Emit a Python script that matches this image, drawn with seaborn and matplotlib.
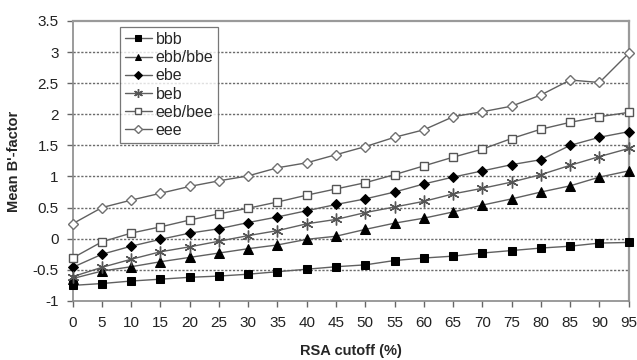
import matplotlib
matplotlib.use("Agg")
import matplotlib.pyplot as plt
import seaborn as sns
import pandas as pd

cutoffs = [0, 5, 10, 15, 20, 25, 30, 35, 40, 45, 50, 55, 60, 65, 70, 75, 80, 85, 90, 95]

bbb = [-0.75, -0.72, -0.68, -0.65, -0.62, -0.60, -0.57, -0.53, -0.49, -0.45,
       -0.42, -0.35, -0.31, -0.28, -0.23, -0.19, -0.15, -0.12, -0.07, -0.06]
ebb_bbe = [-0.64, -0.52, -0.45, -0.37, -0.30, -0.23, -0.16, -0.10, -0.01, 0.04,
           0.15, 0.25, 0.33, 0.43, 0.54, 0.64, 0.75, 0.85, 0.99, 1.09]
ebe = [-0.46, -0.25, -0.12, -0.01, 0.09, 0.16, 0.26, 0.35, 0.45, 0.55,
       0.64, 0.75, 0.88, 0.99, 1.09, 1.19, 1.27, 1.50, 1.63, 1.72]
beb = [-0.61, -0.46, -0.33, -0.21, -0.13, -0.04, 0.05, 0.13, 0.24, 0.31,
       0.42, 0.51, 0.60, 0.72, 0.81, 0.91, 1.03, 1.18, 1.32, 1.45]
eeb_bee = [-0.31, -0.05, 0.09, 0.19, 0.30, 0.40, 0.49, 0.59, 0.70, 0.80,
           0.90, 1.03, 1.17, 1.31, 1.44, 1.61, 1.76, 1.87, 1.96, 2.03]
eee = [0.24, 0.50, 0.62, 0.73, 0.84, 0.93, 1.01, 1.14, 1.22, 1.35,
       1.48, 1.63, 1.75, 1.96, 2.04, 2.13, 2.31, 2.55, 2.51, 2.98]

series_names = ["bbb", "ebb/bbe", "ebe", "beb", "eeb/bee", "eee"]
series_values = [bbb, ebb_bbe, ebe, beb, eeb_bee, eee]

y_ticks = [-1, -0.5, 0, 0.5, 1, 1.5, 2, 2.5, 3, 3.5]
y_ticklabels = ["-1", "-0.5", "0", "0.5", "1", "1.5", "2", "2.5", "3", "3.5"]

df = pd.DataFrame({
    "cutoff": cutoffs * len(series_names),
    "value": [v for vals in series_values for v in vals],
    "series": [n for n in series_names for _ in cutoffs],
})

sns.set_theme(style="white")
plt.rcParams["font.family"] = ["Liberation Sans", "DejaVu Sans"]

fig = plt.figure(figsize=(6.37, 3.6), dpi=100)
ax = fig.add_axes([0.114, 0.164, 0.873, 0.778])

line_color = "#606060"
styles = {
    "bbb":     dict(marker="s", markersize=5.5, markerfacecolor="black", markeredgecolor="black"),
    "ebb/bbe": dict(marker="^", markersize=6.5, markerfacecolor="black", markeredgecolor="black"),
    "ebe":     dict(marker="D", markersize=5, markerfacecolor="black", markeredgecolor="black"),
    "beb":     dict(marker=(6, 2, 0), markersize=8.5, markerfacecolor="none", markeredgecolor="#555555",
                    markeredgewidth=1.0),
    "eeb/bee": dict(marker="s", markersize=6, markerfacecolor="white", markeredgecolor="#555555",
                    markeredgewidth=1.0),
    "eee":     dict(marker="D", markersize=5.5, markerfacecolor="white", markeredgecolor="#707070",
                    markeredgewidth=1.0),
}

for y in y_ticks[1:-1]:
    ax.axhline(y, color="#6a6a6a", linestyle=(0, (1.6, 1.2)), linewidth=1.0, zorder=1)

for name in series_names:
    sub = df[df["series"] == name]
    sns.lineplot(data=sub, x="cutoff", y="value", ax=ax, color=line_color,
                 linewidth=1.0, label=name, clip_on=False, zorder=3, **styles[name])

ax.set_xlim(0, 95)
ax.set_ylim(-1, 3.5)
ax.set_xticks(cutoffs)
ax.set_xticklabels([str(c) for c in cutoffs], fontsize=11)
ax.set_yticks(y_ticks)
ax.set_yticklabels(y_ticklabels, fontsize=11)

for side in ["top", "right"]:
    ax.spines[side].set_color("#9a9a9a")
    ax.spines[side].set_linewidth(1.6)
for side in ["left", "bottom"]:
    ax.spines[side].set_color("#8a8a8a")
    ax.spines[side].set_linewidth(1.2)

ax.tick_params(axis="both", direction="out", length=4, width=1, color="#666666",
               labelcolor="#222222", bottom=True, left=True)
ax.tick_params(axis="x", pad=7)
ax.tick_params(axis="y", pad=6)

ax.set_xlabel("RSA cutoff (%)", fontsize=10.5, fontweight="bold", labelpad=10)
ax.set_ylabel("Mean B'-factor", fontsize=10.5, fontweight="bold", labelpad=8)

leg = ax.legend(loc="upper left", bbox_to_anchor=(0.085, 0.9775), frameon=True,
                fancybox=False, fontsize=11.5, handlelength=1.7, handletextpad=0.25,
                borderpad=0.3, labelspacing=0.2, borderaxespad=0, markerscale=0.75)
leg.get_frame().set_edgecolor("#555555")
leg.get_frame().set_linewidth(0.9)

fig.savefig("out.png", dpi=100)
